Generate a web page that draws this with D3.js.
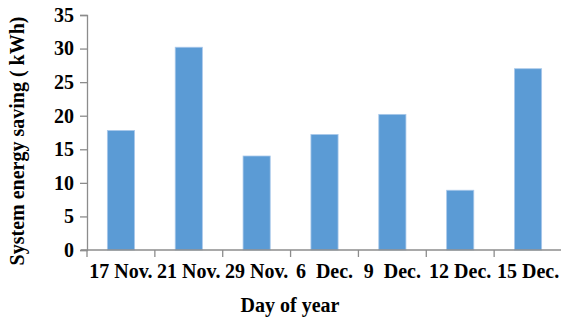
<!DOCTYPE html>
<html>
<head>
<meta charset="utf-8">
<script src="https://cdn.jsdelivr.net/npm/d3@7"></script>
<style>
    body { margin: 0; background: #fff; }
    text { font-family: "Liberation Serif", "Times New Roman", serif; font-weight: bold; fill: #000; }
</style>
</head>
<body>
<svg id="chart" width="561" height="319"></svg>
<script>
var days = ["17 Nov.", "21 Nov.", "29 Nov.", "6  Dec.", "9  Dec.", "12 Dec.", "15 Dec."];
var savings = [17.8, 30.2, 14.0, 17.2, 20.2, 8.9, 27.0];
var yTicks = [0, 5, 10, 15, 20, 25, 30, 35];

var svg = d3.select("#chart");
var margin = { left: 87, right: -1, top: 15, bottom: 69 };
var width = 561, height = 319;

var data = days.map(function (d, i) { return { name: d, value: savings[i] }; });

var xScale = d3.scaleBand()
    .domain(days)
    .range([margin.left, width - margin.right])
    .paddingInner(0.6)
    .paddingOuter(0.3);

var yScale = d3.scaleLinear()
    .domain([0, 35])
    .range([height - margin.bottom, margin.top]);

var axisColor = "#8c8c8c";

// bars
svg.selectAll("rect.bar").data(data).enter().append("rect")
    .attr("class", "bar")
    .attr("x", function (d) { return xScale(d.name); })
    .attr("y", function (d) { return yScale(d.value); })
    .attr("width", xScale.bandwidth())
    .attr("height", function (d) { return yScale(0) - yScale(d.value); })
    .attr("fill", "#5b9bd5")
    .attr("stroke", "#a9c8ea")
    .attr("stroke-width", 0.8);

// y axis
var yAxis = svg.append("g")
    .attr("transform", "translate(" + margin.left + ",0)")
    .call(d3.axisLeft(yScale).tickValues(yTicks).tickSize(7).tickPadding(6));
yAxis.select(".domain").attr("stroke", axisColor).attr("stroke-width", 1.3);
yAxis.selectAll(".tick line").attr("stroke", axisColor).attr("stroke-width", 1.3);
yAxis.selectAll(".tick text")
    .style("font-family", "'Liberation Serif', serif")
    .style("font-weight", "bold")
    .style("font-size", "20px")
    .attr("fill", "#000");

// x axis: ticks at band boundaries
var xAxisG = svg.append("g");
var y0 = yScale(0);
xAxisG.append("line")
    .attr("x1", margin.left - 6).attr("x2", width)
    .attr("y1", y0).attr("y2", y0)
    .attr("stroke", axisColor).attr("stroke-width", 1.3);
xAxisG.selectAll("line.tk").data(days).enter().append("line")
    .attr("class", "tk")
    .attr("x1", function (d) { return xScale(d) - xScale.step() * xScale.paddingOuter(); })
    .attr("x2", function (d) { return xScale(d) - xScale.step() * xScale.paddingOuter(); })
    .attr("y1", y0).attr("y2", y0 + 7)
    .attr("stroke", axisColor).attr("stroke-width", 1.3);
xAxisG.selectAll("text").data(days).enter().append("text")
    .attr("x", function (d) { return xScale(d) + xScale.bandwidth() / 2; })
    .attr("y", y0 + 28)
    .attr("text-anchor", "middle")
    .style("white-space", "pre")
    .style("font-size", "20px")
    .text(function (d) { return d; });

// axis titles
svg.append("text")
    .attr("transform", "translate(24," + 141 + ") rotate(-90)")
    .attr("text-anchor", "middle")
    .style("font-size", "20px")
    .text("System energy saving ( kWh)");

svg.append("text")
    .attr("x", 290)
    .attr("y", 312)
    .attr("text-anchor", "middle")
    .style("font-size", "20px")
    .text("Day of year");
</script>
</body>
</html>
